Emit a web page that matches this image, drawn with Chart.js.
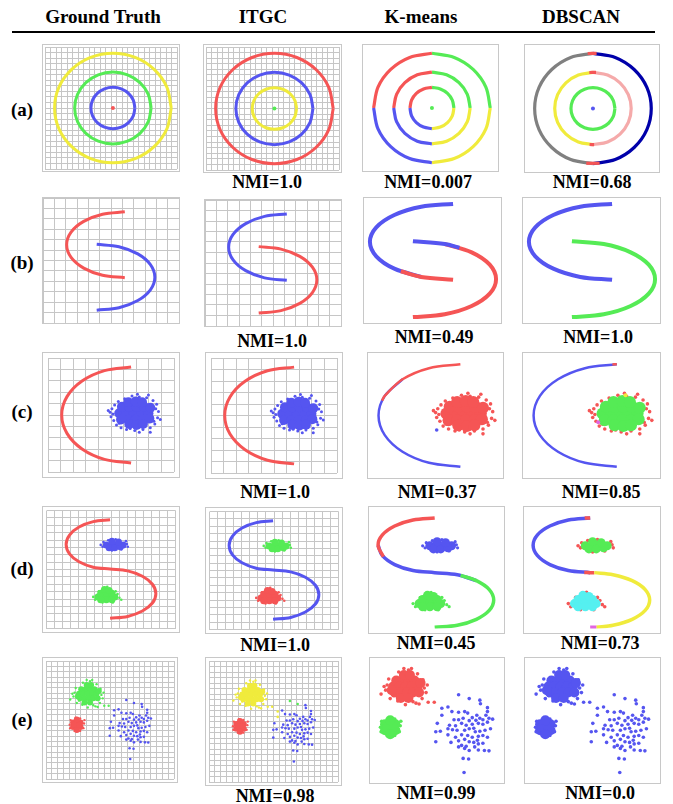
<!DOCTYPE html>
<html>
<head>
<meta charset="utf-8">
<script src="https://cdn.jsdelivr.net/npm/chart.js@4.4.1/dist/chart.umd.min.js"></script>
<style>
  body { margin: 0; background: #fff; }
  #fig { position: relative; width: 673px; height: 804px; overflow: hidden; font-family: "Liberation Serif", "Times New Roman", serif; font-weight: bold; }
  .box { position: absolute; border: 1px solid #c8c8c8; box-sizing: border-box; }
  .box canvas { display: block; }
  .txt { position: absolute; width: 200px; text-align: center; line-height: 1; white-space: nowrap; }
</style>
</head>
<body>
<div id="fig"></div>
<script>
// column titles and labels
var titles = ['Ground Truth', 'ITGC', 'K-means', 'DBSCAN'];
var rowNames = ['(a)', '(b)', '(c)', '(d)', '(e)'];
var nmiITGC = ['NMI=1.0', 'NMI=1.0', 'NMI=1.0', 'NMI=1.0', 'NMI=0.98'];
var nmiKmeans = ['NMI=0.007', 'NMI=0.49', 'NMI=0.37', 'NMI=0.45', 'NMI=0.99'];
var nmiDbscan = ['NMI=0.68', 'NMI=1.0', 'NMI=0.85', 'NMI=0.73', 'NMI=0.0'];

// (a) three rings + centre point
var ringInner = [[23,0],[21.3,8.8],[16.3,16.3],[8.8,21.3],[0,23],[-8.8,21.3],[-16.3,16.3],[-21.3,8.8],[-23,0],[-21.3,-8.8],[-16.3,-16.3],[-8.8,-21.3],[0,-23],[8.8,-21.3],[16.3,-16.3],[21.3,-8.8],[23,0]];
var ringMid = [[40,0],[37,15.3],[28.3,28.3],[15.3,37],[0,40],[-15.3,37],[-28.3,28.3],[-37,15.3],[-40,0],[-37,-15.3],[-28.3,-28.3],[-15.3,-37],[0,-40],[15.3,-37],[28.3,-28.3],[37,-15.3],[40,0]];
var ringOuter = [[61,0],[56.4,23.3],[43.1,43.1],[23.3,56.4],[0,61],[-23.3,56.4],[-43.1,43.1],[-56.4,23.3],[-61,0],[-56.4,-23.3],[-43.1,-43.1],[-23.3,-56.4],[0,-61],[23.3,-56.4],[43.1,-43.1],[56.4,-23.3],[61,0]];
var aCenter = [[0,0]];
var outerTopBit = [[3.8,60.9],[-5.5,60.8]];
var outerBotBit = [[-7,-60.6],[7,-60.6]];
var midTopBit = [[3.2,39.9],[-3.8,39.8]];
var midBotBit = [[-3.5,-39.8],[1.2,-40]];

// (b) two moons
var bUpper = [[83,113],[60.4,110.5],[41.3,103.2],[28.5,92.3],[24,79.5],[28.5,66.7],[41.3,55.8],[60.4,48.5],[83,46]];
var bLower = [[54.5,80],[77.1,77.5],[96.2,70.2],[109,59.3],[113.5,46.5],[109,33.7],[96.2,22.8],[77.1,15.5],[54.5,13]];
var bUpperTail = [[45.9,53.5],[60.4,48.5],[83,46]];
var bLowerHead = [[54.5,80],[77.1,77.5],[87.5,74.3]];

// (c) arc + blob
var cArc = [[91,116],[61.9,112],[37.3,100.5],[20.8,83.3],[15,63],[20.8,42.7],[37.3,25.5],[61.9,14],[91,10]];
var cArcTop = [[91,116],[61.9,112],[37.3,100.5],[20.8,83.3],[18.3,78.5]];
var cArcTip = [[91,116],[87,115.9]];
var cCore = [[78,65],[86,65],[94,65],[102,65],[110,65],[81,72],[89,72],[97,72],[105,72],[112,71],[80,58],[88,58],[96,58],[104,58],[111,59],[88,77],[96,78],[103,77],[89,53],[97,52],[104,53]];
var cSpray = [[68,66],[69,61],[70,70],[72,57],[73,74],[75,52],[77,78],[80,49],[84,81],[86,47],[92,84],[95,46],[100,83],[104,47],[108,82],[112,49],[115,79],[117,53],[119,75],[120,60],[121,67],[118,70],[116,56],[71,64],[78,54],[110,85],[98,86],[90,48],[123,58],[66,68],[112,44],[100,44]];
var cStray = [[69,48]];
var cYellow = [[99,84]];
var cMagenta = [[74,56]];

// (d) S curve + two blobs
var dS = [[68,117],[50,115],[34.8,109.2],[24.6,100.6],[21,90.5],[24.6,80.4],[34.8,71.8],[50,66],[68,64],[86.8,62],[102.6,56.2],[113.3,47.6],[117,37.5],[113.3,27.4],[102.6,18.8],[86.8,13],[68,11]];
var dRedHead = [[68,117],[50,115],[34.8,109.2],[24.6,100.6],[21,90.5],[25.4,79.3]];
var dGreenTail = [[89.5,61.3],[102.6,56.2],[113.3,47.6],[117,37.5],[113.3,27.4],[102.6,18.8],[86.8,13],[68,11]];
var dMidBit = [[63.1,64.1],[68,64],[71.4,64]];
var dYellowTail = [[71.4,64],[86.8,62],[102.6,56.2],[113.3,47.6],[117,37.5],[113.3,27.4],[102.6,18.8],[86.8,13],[73.1,11.1]];
var dEndBit = [[73.1,11.1],[68,11]];
var dTopBit = [[68,117],[63.5,116.8]];
var dUpCore = [[64,90],[70,91],[76,90],[82,90],[67,87],[73,87],[79,88],[70,94],[77,93]];
var dUpSpray = [[58,90],[60,88],[61,93],[86,91],[87,88],[85,94],[74,96],[66,95],[80,85],[70,84]];
var dLowCore = [[55,34],[61,34],[67,34],[73,34],[58,38],[64,38],[70,38],[62,42],[67,41],[64,31],[70,31],[58,31]];
var dLowSpray = [[50,34],[52,31],[78,33],[80,31],[76,37],[65,45],[60,28],[71,28],[56,40],[74,40]];

// (e) two dense blobs + sparse cloud (y grows downward)
var eBigCore = [[170,80],[190,80],[210,80],[230,80],[160,100],[180,100],[200,100],[220,100],[240,100],[165,120],[185,120],[205,120],[225,120],[245,120],[195,62],[215,62],[185,138],[210,138],[250,88],[155,112]];
var eBigSpray = [[120,125],[195,40],[220,40],[235,155],[245,158],[200,160],[160,130],[140,95],[145,75],[262,105],[268,120],[258,78],[178,52],[240,58],[175,148],[225,150],[135,112],[272,95],[130,100],[255,140],[150,140],[210,45]];
var eTrail = [[275,152],[295,152]];
var eSmallCore = [[133,225],[150,220],[167,225],[133,245],[150,245],[167,245],[140,235],[160,235],[150,212],[150,258]];
var eSmallSpray = [[118,235],[183,230],[122,215],[180,250],[140,262],[165,262],[145,205],[165,208],[120,250],[185,215]];
var eBlueTop = [[375,127],[410,140]];
var eBlueLeft = [[320,172],[320,195]];
var eBlue = [[445,145],[447,157],[340,168],[353,183],[375,185],[395,183],[405,188],[470,170],[470,183],[465,195],[435,195],[420,203],[445,205],[390,205],[375,210],[360,210],[410,213],[432,212],[455,210],[475,205],[487,208],[305,222],[345,228],[365,230],[385,222],[400,228],[420,225],[440,222],[455,225],[470,218],[425,238],[410,240],[395,245],[370,245],[355,243],[340,240],[300,250],[315,248],[430,250],[445,248],[462,245],[480,240],[385,260],[405,262],[420,268],[440,265],[455,262],[470,268],[395,275],[375,280],[410,283],[425,285],[437,278],[350,285],[300,283],[385,295],[400,298],[428,300],[440,310],[460,312],[475,313],[410,312],[395,305],[375,300],[390,338],[408,340],[393,385],[440,290],[455,288],[365,268],[340,260]];

var RED = 'rgb(245,85,85)', BLUE = 'rgb(85,85,240)', GREEN = 'rgb(85,235,85)', YELLOW = 'rgb(240,235,60)';
var GRAY = 'rgb(128,128,128)', NAVY = 'rgb(0,0,170)', PINK = 'rgb(245,170,170)', CYAN = 'rgb(85,240,240)', MAGENTA = 'rgb(225,100,225)';

var fig = document.getElementById('fig');

var toXY = function (a) { return a.map(function (p) { return { x: p[0], y: p[1] }; }); };
var curve = function (pts, color, w) {
  return { data: toXY(pts), showLine: true, borderColor: color, borderWidth: w, pointRadius: 0, tension: 0.34, fill: false };
};
var dots = function (pts, color, r) {
  return { data: toXY(pts), showLine: false, pointRadius: r, pointHoverRadius: r, backgroundColor: color, pointBorderWidth: 0, borderWidth: 0 };
};

var axis = function (range, cells, rev) {
  return {
    type: 'linear', min: range[0], max: range[1], reverse: !!rev,
    ticks: { display: false },
    grid: { display: !!cells, color: '#c6c6c6', lineWidth: 1, drawTicks: false },
    border: { display: false },
    // one grid line per cell edge
    afterBuildTicks: function (s) {
      if (!cells) return;
      var t = [];
      for (var k = 0; k <= cells; k++) t.push({ value: range[0] + (range[1] - range[0]) * k / cells });
      s.ticks = t;
    }
  };
};

var panel = function (box, xr, yr, grid, datasets, rev) {
  var div = document.createElement('div');
  div.className = 'box';
  div.style.left = box[0] + 'px'; div.style.top = box[1] + 'px';
  div.style.width = box[2] + 'px'; div.style.height = box[3] + 'px';
  var cv = document.createElement('canvas');
  cv.width = box[2] - 2; cv.height = box[3] - 2;
  cv.style.width = (box[2] - 2) + 'px'; cv.style.height = (box[3] - 2) + 'px';
  div.appendChild(cv);
  fig.appendChild(div);
  // chart.js paints dataset 0 last, so flip: the last listed ends on top
  new Chart(cv, {
    type: 'scatter',
    data: { datasets: datasets.slice().reverse() },
    options: {
      responsive: false, animation: false, events: [],
      layout: { padding: 0 },
      plugins: { legend: { display: false }, tooltip: { enabled: false } },
      scales: { x: axis(xr, grid && grid[0]), y: axis(yr, grid && grid[1], rev) }
    }
  });
};

var text = function (str, cx, baseline, size) {
  var d = document.createElement('div');
  d.className = 'txt';
  d.textContent = str;
  d.style.fontSize = size + 'px';
  d.style.left = (cx - 100) + 'px';
  d.style.top = (baseline - size * 0.84) + 'px';
  fig.appendChild(d);
};

// header
var titleX = [103, 263, 421, 581];
titles.forEach(function (t, i) { text(t, titleX[i], 23, 19); });
var rule = document.createElement('div');
rule.style.cssText = 'position:absolute;left:12px;top:31px;width:643px;height:2px;background:#000;';
fig.appendChild(rule);

var labelBase = [116, 269, 418, 575, 726];
rowNames.forEach(function (t, i) { text(t, 22, labelBase[i], 19); });

var nmiBase = [[188, 188, 188], [347, 343, 343], [498, 498, 498], [651, 649, 649], [802, 799, 799]];
var nmiX = [[267, 428, 592], [272, 434, 598], [275, 437, 601], [275, 436, 600], [275, 436, 600]];
for (var i = 0; i < 5; i++) {
  text(nmiITGC[i], nmiX[i][0], nmiBase[i][0], 18);
  text(nmiKmeans[i], nmiX[i][1], nmiBase[i][1], 18);
  text(nmiDbscan[i], nmiX[i][2], nmiBase[i][2], 18);
}

// row (a)
var aX = [-71, 67], aY = [-68, 68], aGrid = [24, 22];
panel([42, 44, 138, 128], aX, aY, aGrid, [curve(ringOuter, YELLOW, 3), curve(ringMid, GREEN, 3), curve(ringInner, BLUE, 3), dots(aCenter, RED, 2)]);
panel([203, 44, 139, 129], aX, aY, aGrid, [curve(ringOuter, RED, 3), curve(ringMid, BLUE, 3), curve(ringInner, YELLOW, 3), dots(aCenter, GREEN, 2)]);
var kmRings = [];
[ringOuter, ringMid, ringInner].forEach(function (r) {
  kmRings.push(curve(r.slice(0, 5), GREEN, 3.2), curve(r.slice(4, 9), RED, 3.2), curve(r.slice(8, 13), BLUE, 3.2), curve(r.slice(12, 17), YELLOW, 3.2));
});
kmRings.push(dots(aCenter, GREEN, 2));
panel([362, 44, 137, 128], [-70, 67], aY, null, kmRings);
panel([524, 44, 136, 129], [-69, 67], aY, null, [
  curve(ringOuter.slice(4, 13), GRAY, 3.2), curve(ringOuter.slice(12).concat(ringOuter.slice(1, 5)), NAVY, 3.2),
  curve(outerTopBit, RED, 3.2), curve(outerBotBit, RED, 3.2),
  curve(ringMid.slice(4, 13), YELLOW, 3.2), curve(ringMid.slice(12).concat(ringMid.slice(1, 5)), PINK, 3.2),
  curve(midTopBit, RED, 3.2), curve(midBotBit, RED, 3.2),
  curve(ringInner, GREEN, 3.2), dots(aCenter, BLUE, 2)
]);

// row (b)
var bGX = [0, 138], bGY = [0, 127], bKX = [19.8, 117], bKY = [7.8, 118.2];
panel([42, 197, 138, 127], bGX, bGY, [12, 12], [curve(bUpper, RED, 3), curve(bLower, BLUE, 3)]);
panel([204, 199, 138, 128], bGX, bGY, [12, 12], [curve(bUpper, BLUE, 3), curve(bLower, RED, 3)]);
panel([363, 197, 139, 127], bKX, bKY, null, [curve(bUpper.slice(0, 8), BLUE, 4), curve(bUpperTail, RED, 4), curve(bLower.slice(1), RED, 4), curve(bLowerHead, BLUE, 4)]);
panel([522, 197, 139, 127], bKX, bKY, null, [curve(bUpper, BLUE, 4), curve(bLower, GREEN, 4)]);

// row (c)
var cGX = [0, 138], cGY = [0, 126], cKX = [10.8, 125], cKY = [4.5, 121.5];
panel([42, 352, 138, 126], cGX, cGY, [10, 10], [curve(cArc, RED, 3), dots(cSpray, BLUE, 1.5), dots(cCore, BLUE, 5)]);
panel([205, 352, 138, 127], cGX, cGY, [10, 10], [curve(cArc, RED, 3), dots(cSpray, BLUE, 1.5), dots(cCore, BLUE, 5)]);
panel([367, 352, 137, 127], cKX, cKY, null, [curve(cArc.slice(2), BLUE, 2.5), curve(cArcTop, RED, 2.5), dots(cSpray, RED, 1.8), dots(cCore, RED, 6), dots(cStray, BLUE, 1.8)]);
panel([522, 352, 139, 127], cKX, cKY, null, [curve(cArc, BLUE, 2.5), curve(cArcTip, RED, 2.5), dots(cSpray, RED, 1.8), dots(cCore, GREEN, 6), dots(cYellow, YELLOW, 2), dots(cMagenta, MAGENTA, 2)]);

// row (d)
var dGX = [0, 138], dGY = [0, 127], dKX = [17.2, 121.8], dKY = [9.9, 123.2];
panel([42, 506, 138, 127], dGX, dGY, [16, 16], [curve(dS, RED, 3), dots(dUpSpray, BLUE, 1.3), dots(dUpCore, BLUE, 3.5), dots(dLowSpray, GREEN, 1.3), dots(dLowCore, GREEN, 3.5)]);
panel([205, 507, 138, 127], dGX, dGY, [16, 16], [curve(dS, BLUE, 3), dots(dUpSpray, GREEN, 1.3), dots(dUpCore, GREEN, 3.5), dots(dLowSpray, RED, 1.3), dots(dLowCore, RED, 3.5)]);
panel([368, 506, 137, 128], dKX, dKY, null, [curve(dS.slice(4, 11), BLUE, 3.5), curve(dRedHead, RED, 3.5), curve(dGreenTail, GREEN, 3.5), dots(dUpSpray, BLUE, 1.6), dots(dUpCore, BLUE, 4.5), dots(dLowSpray, GREEN, 1.6), dots(dLowCore, GREEN, 4.5)]);
panel([523, 506, 138, 128], dKX, dKY, null, [curve(dS.slice(0, 9), BLUE, 3.5), curve(dMidBit, RED, 3.5), curve(dYellowTail, YELLOW, 3.5), curve(dEndBit, MAGENTA, 3.5), curve(dTopBit, RED, 3.5), dots(dUpSpray, RED, 1.8), dots(dUpCore, GREEN, 4.5), dots(dLowSpray, RED, 1.8), dots(dLowCore, CYAN, 4.5)]);

// row (e)
var eGX = [10, 592], eGY = [-43, 472], eKX = [100, 508], eKY = [22, 403];
panel([42, 657, 136, 126], eGX, eGY, [22, 22], [
  dots(eBigSpray, GREEN, 1.2), dots(eBigCore, GREEN, 3), dots(eTrail, GREEN, 1.2),
  dots(eSmallSpray, RED, 1.2), dots(eSmallCore, RED, 3),
  dots(eBlue, BLUE, 1.3), dots(eBlueTop, BLUE, 1.3), dots(eBlueLeft, BLUE, 1.3)
], true);
panel([205, 657, 137, 129], eGX, eGY, [22, 22], [
  dots(eBigSpray, YELLOW, 1.2), dots(eBigCore, YELLOW, 3), dots(eTrail, YELLOW, 1.2),
  dots(eSmallSpray, RED, 1.2), dots(eSmallCore, RED, 3),
  dots(eBlue, BLUE, 1.3), dots(eBlueTop, GREEN, 1.3), dots(eBlueLeft, YELLOW, 1.3)
], true);
panel([369, 657, 136, 127], eKX, eKY, null, [
  dots(eBigSpray, RED, 1.8), dots(eBigCore, RED, 5), dots(eTrail, RED, 1.8),
  dots(eSmallSpray, GREEN, 1.8), dots(eSmallCore, GREEN, 5),
  dots(eBlue, BLUE, 1.8), dots(eBlueTop, BLUE, 1.8), dots(eBlueLeft, BLUE, 1.8)
], true);
panel([524, 657, 137, 127], eKX, eKY, null, [
  dots(eBigSpray, BLUE, 1.8), dots(eBigCore, BLUE, 5), dots(eTrail, BLUE, 1.8),
  dots(eSmallSpray, BLUE, 1.8), dots(eSmallCore, BLUE, 5),
  dots(eBlue, BLUE, 1.8), dots(eBlueTop, BLUE, 1.8), dots(eBlueLeft, BLUE, 1.8)
], true);
</script>
</body>
</html>
